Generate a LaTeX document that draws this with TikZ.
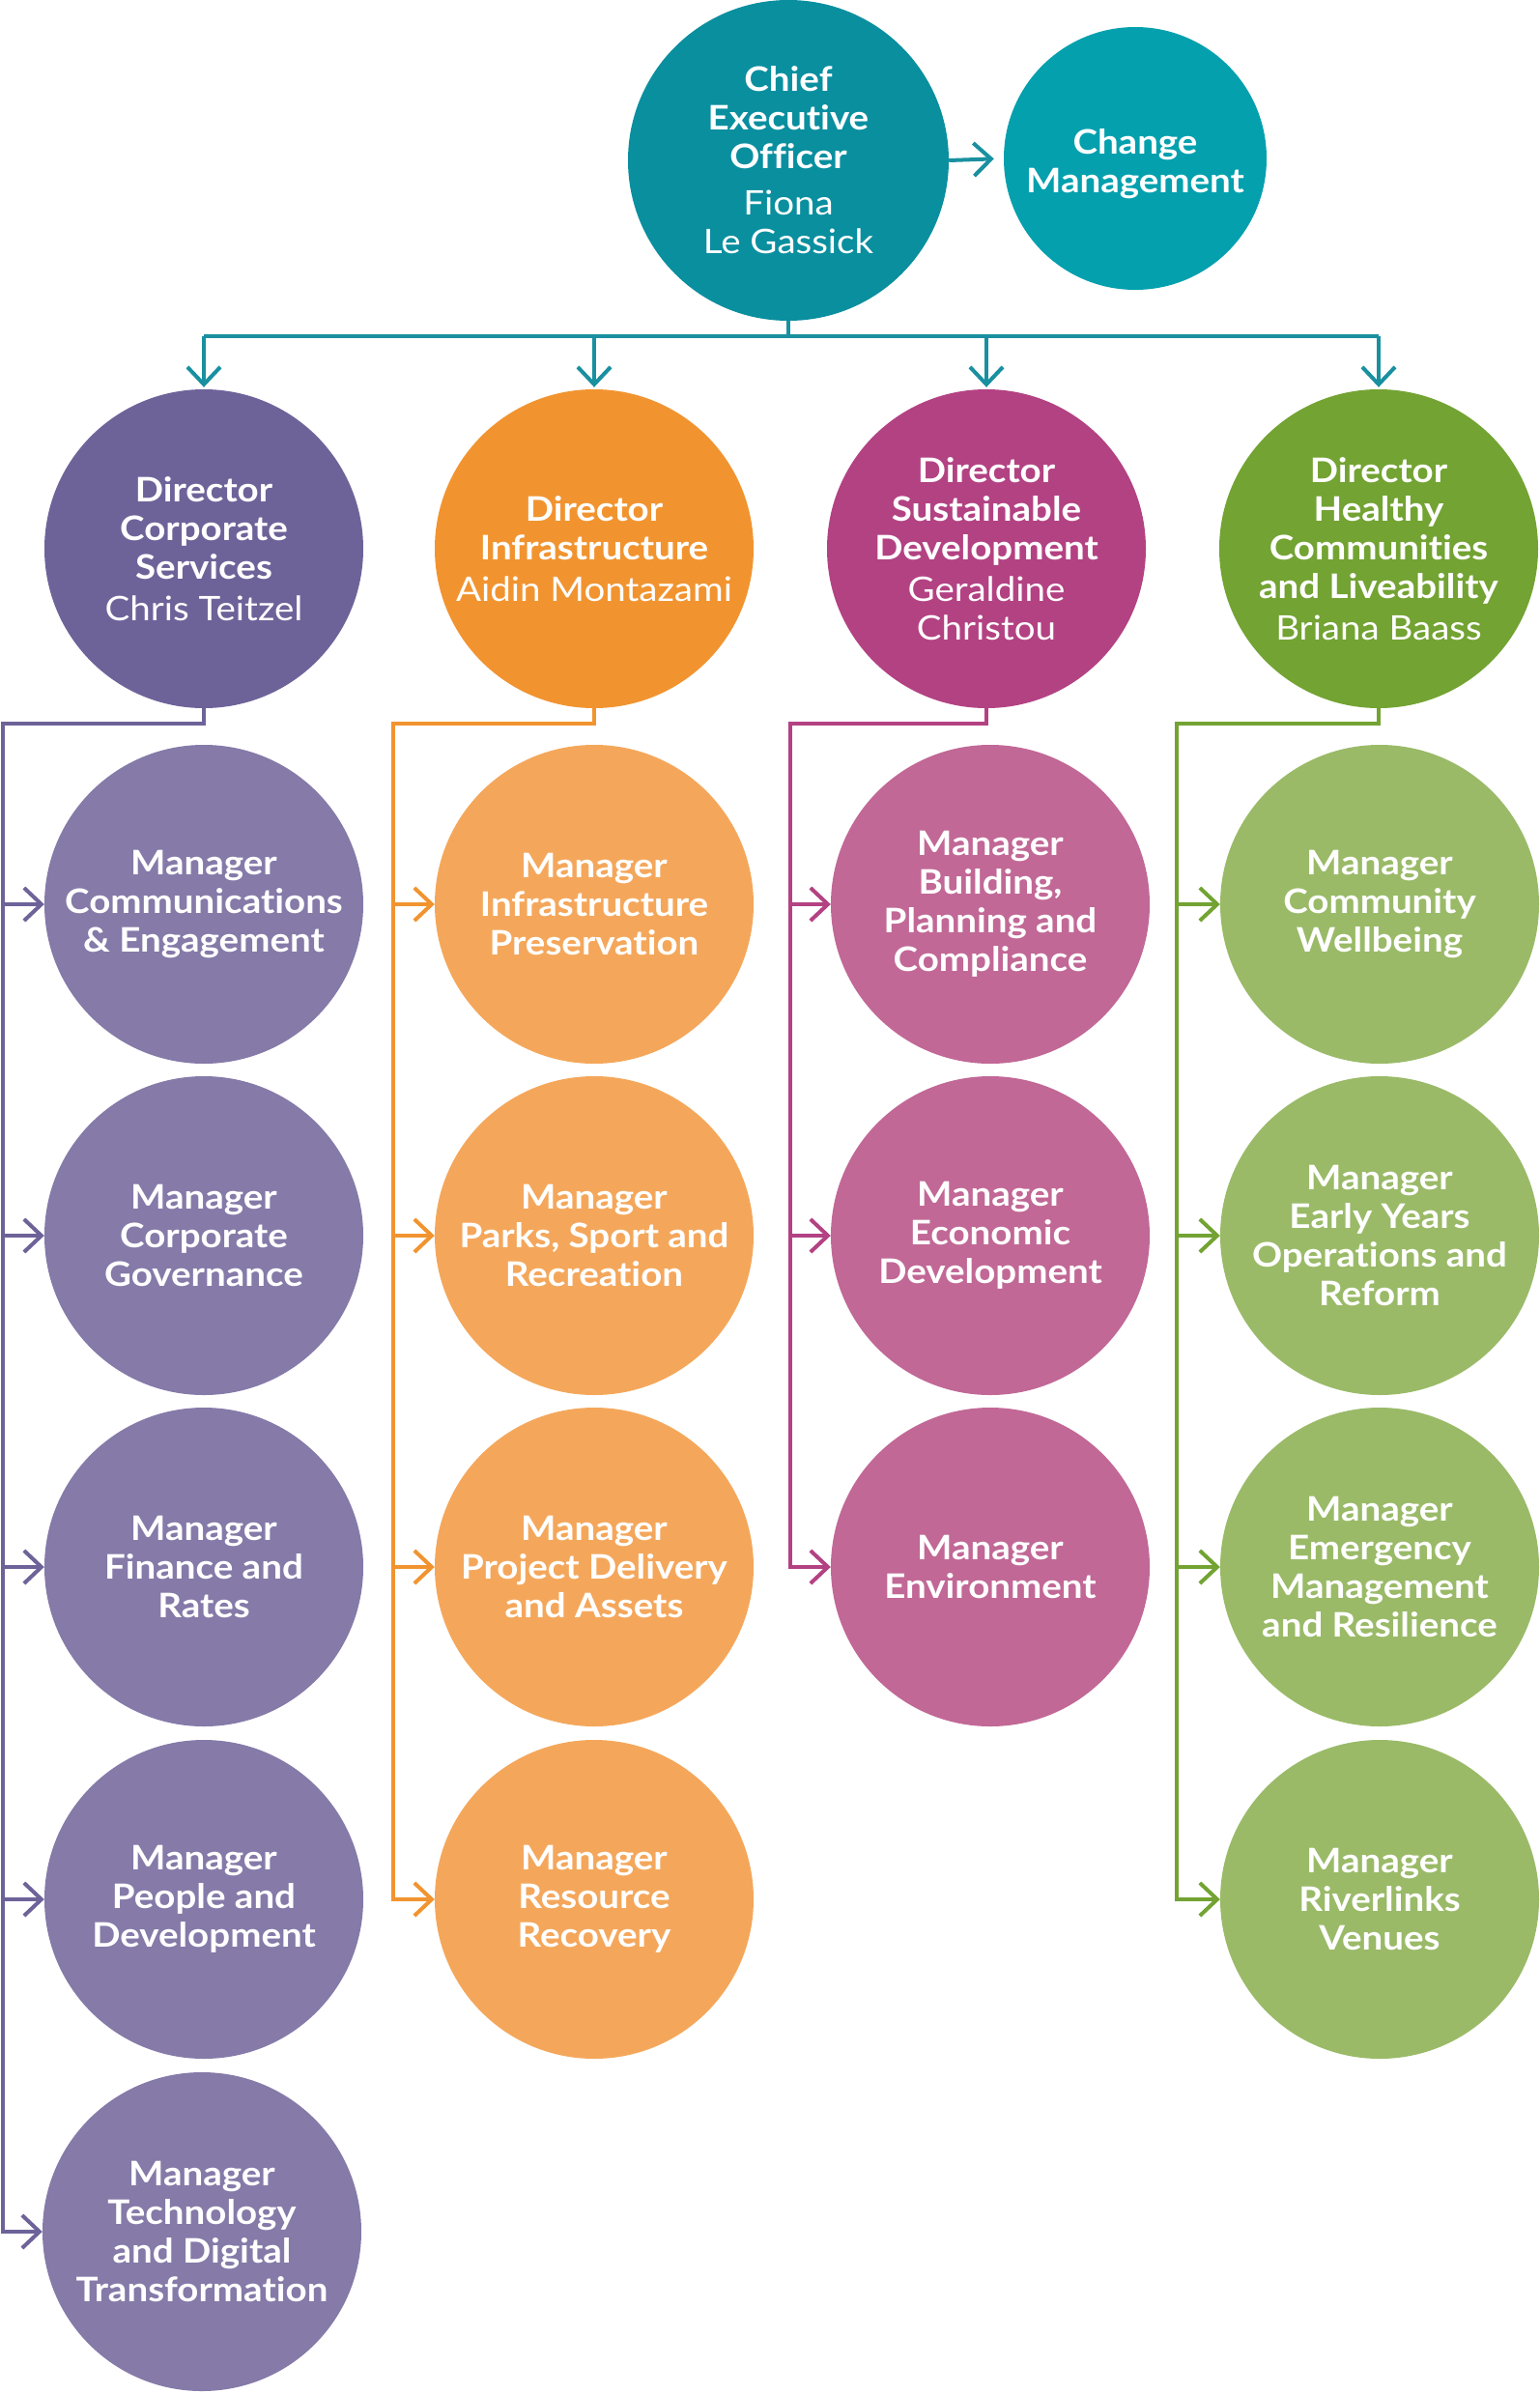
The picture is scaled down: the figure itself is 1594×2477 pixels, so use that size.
\documentclass[tikz,border=0pt]{standalone}
\usepackage{fontspec}
\setmainfont{Lato}[FakeStretch=1.1, Ligatures=NoCommon]
\usetikzlibrary{arrows.meta}
\definecolor{ceoC}{RGB}{10,143,159}
\definecolor{chgC}{RGB}{4,160,174}
\definecolor{tealL}{RGB}{25,144,160}
\definecolor{purD}{RGB}{110,99,153}
\definecolor{purM}{RGB}{133,122,168}
\definecolor{oraD}{RGB}{241,148,48}
\definecolor{oraM}{RGB}{244,167,91}
\definecolor{magD}{RGB}{179,66,131}
\definecolor{magM}{RGB}{193,104,150}
\definecolor{grnD}{RGB}{115,163,51}
\definecolor{grnM}{RGB}{154,186,104}
\begin{document}
\begin{tikzpicture}[x=1pt,y=-1pt,
  circ/.style={circle, inner sep=0pt, minimum size=330pt, text=white, align=center,
    font=\fontsize{35}{40}\selectfont\bfseries},
  link/.style={line width=4pt, line join=miter},
  arr/.style={link, -{Straight Barb[length=18pt,width=34pt]}}]
\useasboundingbox (0,0) rectangle (1594,2477);

% top
\node[circ, minimum size=332pt, fill=ceoC] (ceo) at (816,166)
  {Chief\\Executive\\Officer\\[8pt]\mdseries Fiona\\\mdseries Le Gassick};
\node[circ, minimum size=272pt, fill=chgC] (chg) at (1175,164) {};
\node[text=white, align=center, font=\fontsize{35}{40}\selectfont\bfseries] (chgt) at (1175,170) {Change\\Management};

% directors
\node[circ, fill=purD] (d1) at (211,568) {Director\\Corporate\\Services\\[3pt]\mdseries Chris Teitzel};
\node[circ, fill=oraD] (d2) at (615,568) {Director\\Infrastructure\\[3pt]\mdseries Aidin Montazami};
\node[circ, fill=magD] (d3) at (1021,568) {Director\\Sustainable\\Development\\[3pt]\mdseries Geraldine\\\mdseries Christou};
\node[circ, fill=grnD] (d4) at (1427,568) {Director\\Healthy\\Communities\\and Liveability\\[3pt]\mdseries Briana Baass};

% managers column 1
\node[circ, fill=purM] (m11) at (211,936) {Manager\\Communications\\\& Engagement};
\node[circ, fill=purM] (m12) at (211,1279) {Manager\\Corporate\\Governance};
\node[circ, fill=purM] (m13) at (211,1622) {Manager\\Finance and\\Rates};
\node[circ, fill=purM] (m14) at (211,1966) {Manager\\People and\\Development};
\node[circ, fill=purM] (m15) at (209,2310) {Manager\\Technology\\and Digital\\Transformation};

% column 2
\node[circ, fill=oraM] (m21) at (615,936) {Manager\\Infrastructure\\Preservation};
\node[circ, fill=oraM] (m22) at (615,1279) {Manager\\Parks, Sport and\\Recreation};
\node[circ, fill=oraM] (m23) at (615,1622) {Manager\\Project Delivery\\and Assets};
\node[circ, fill=oraM] (m24) at (615,1966) {Manager\\Resource\\Recovery};

% column 3
\node[circ, fill=magM] (m31) at (1025,936) {Manager\\Building,\\Planning and\\Compliance};
\node[circ, fill=magM] (m32) at (1025,1279) {Manager\\Economic\\Development};
\node[circ, fill=magM] (m33) at (1025,1622) {Manager\\Environment};

% column 4
\node[circ, fill=grnM] (m41) at (1428,936) {Manager\\Community\\Wellbeing};
\node[circ, fill=grnM] (m42) at (1428,1279) {Manager\\Early Years\\Operations and\\Reform};
\node[circ, fill=grnM] (m43) at (1428,1622) {Manager\\Emergency\\Management\\and Resilience};
\node[circ, fill=grnM] (m44) at (1428,1966) {Manager\\Riverlinks\\Venues};

% top connectors
\coordinate (bus) at (816,348);
\draw[arr, draw=tealL, shorten >=10pt] (ceo.east) -- (chg.west);
\draw[link, draw=tealL] (ceo.south) -- (bus);
\draw[link, draw=tealL] (d1.north |- bus) -- (d4.north |- bus);
\foreach \d in {d1,d2,d3,d4}{
  \draw[arr, draw=tealL, shorten >=2pt] (\d.north |- bus) -- (\d.north);
}

% branch coordinates
\coordinate (b1) at (3,749);
\coordinate (b2) at (407,749);
\coordinate (b3) at (818,749);
\coordinate (b4) at (1218,749);

% column 1
\draw[arr, draw=purD] (d1.south) -- (d1.south |- b1) -- (b1) -- (b1 |- m15.west) -- (m15.west);
\foreach \m in {m11,m12,m13,m14}{\draw[arr, draw=purD] (b1 |- \m.west) -- (\m.west);}
% column 2
\draw[arr, draw=oraD] (d2.south) -- (d2.south |- b2) -- (b2) -- (b2 |- m24.west) -- (m24.west);
\foreach \m in {m21,m22,m23}{\draw[arr, draw=oraD] (b2 |- \m.west) -- (\m.west);}
% column 3
\draw[arr, draw=magD] (d3.south) -- (d3.south |- b3) -- (b3) -- (b3 |- m33.west) -- (m33.west);
\foreach \m in {m31,m32}{\draw[arr, draw=magD] (b3 |- \m.west) -- (\m.west);}
% column 4
\draw[arr, draw=grnD] (d4.south) -- (d4.south |- b4) -- (b4) -- (b4 |- m44.west) -- (m44.west);
\foreach \m in {m41,m42,m43}{\draw[arr, draw=grnD] (b4 |- \m.west) -- (\m.west);}
\end{tikzpicture}
\end{document}
